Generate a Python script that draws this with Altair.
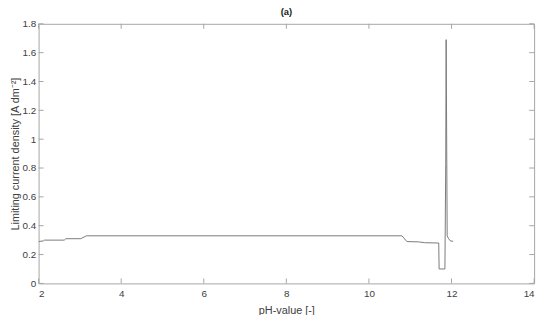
import altair as alt
import pandas as pd

# Line data
ph = [2.00, 2.12, 2.14, 2.62, 2.66, 3.02, 3.16, 10.80, 10.92, 11.20, 11.35,
      11.69, 11.70, 11.84, 11.86, 11.87, 11.895, 11.93, 11.97, 12.04]
current = [0.29, 0.295, 0.30, 0.30, 0.31, 0.31, 0.33, 0.33, 0.29, 0.288, 0.282,
           0.28, 0.10, 0.10, 0.83, 1.69, 0.33, 0.31, 0.295, 0.292]

x_ticks = [2, 4, 6, 8, 10, 12, 14]
y_ticks = [0, 0.2, 0.4, 0.6, 0.8, 1.0, 1.2, 1.4, 1.6, 1.8]

W, H = 502, 263
FONT = "Liberation Sans"
TXT = "#404040"
GRID = "#a6a6a6"
X_TITLE = "pH-value [-]"
Y_TITLE = "Limiting current density [A dm⁻²]"

df = pd.DataFrame({"ph": ph, "current": current})
dx = pd.DataFrame({"t": x_ticks})
dy = pd.DataFrame({"t": y_ticks})

xs = alt.Scale(domain=[2, 14], nice=False, zero=False)
ys = alt.Scale(domain=[0, 1.8], nice=False)

x_axis = alt.Axis(values=x_ticks, ticks=False, domain=False, grid=False,
                  labelPadding=5, labelFontSize=10, labelColor=TXT,
                  labelFont=FONT, titleFont=FONT, titleFontSize=11,
                  titleFontWeight="normal", titleColor=TXT, titlePadding=6)
y_axis = alt.Axis(values=y_ticks, ticks=False, domain=False, grid=False,
                  format="~g", labelPadding=3, labelFontSize=10,
                  labelColor=TXT, labelFont=FONT, titleFont=FONT,
                  titleFontSize=11, titleFontWeight="normal",
                  titleColor=TXT, titlePadding=1)

line = alt.Chart(df).mark_line(color="#7a7a7a", strokeWidth=1, clip=True).encode(
    x=alt.X("ph:Q", scale=xs, title=X_TITLE, axis=x_axis),
    y=alt.Y("current:Q", scale=ys, title=Y_TITLE, axis=y_axis),
)

tick_style = dict(color=GRID, strokeWidth=1)
bottom = alt.Chart(dx).mark_rule(**tick_style).encode(
    x=alt.X("t:Q", scale=xs, title=X_TITLE, axis=x_axis),
    y=alt.value(H), y2=alt.value(H - 5))
top = alt.Chart(dx).mark_rule(**tick_style).encode(
    x=alt.X("t:Q", scale=xs, title=X_TITLE, axis=x_axis),
    y=alt.value(0), y2=alt.value(5))
left = alt.Chart(dy).mark_rule(**tick_style).encode(
    y=alt.Y("t:Q", scale=ys, title=Y_TITLE, axis=y_axis),
    x=alt.value(0), x2=alt.value(5))
right = alt.Chart(dy).mark_rule(**tick_style).encode(
    y=alt.Y("t:Q", scale=ys, title=Y_TITLE, axis=y_axis),
    x=alt.value(W), x2=alt.value(W - 5))

chart = alt.layer(line, bottom, top, left, right).properties(
    width=W, height=H,
    title=alt.TitleParams("(a)", fontSize=9.5, fontWeight="bold", font=FONT,
                          color="#202020", offset=2),
    autosize=alt.AutoSizeParams(type="none"),
    padding={"left": 31, "top": 14, "right": 8, "bottom": 30},
).configure_view(stroke=GRID, strokeWidth=1)

chart.save("out.html", embed_options={"renderer": "svg", "actions": False})
